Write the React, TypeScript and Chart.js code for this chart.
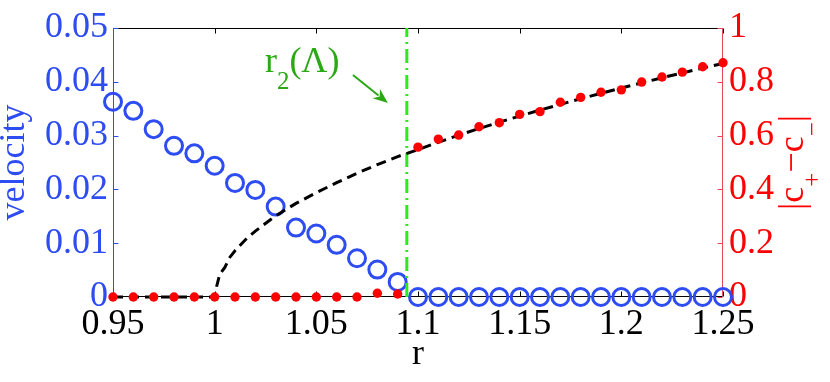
import React, { useEffect, useRef } from 'react';
import { Chart, registerables } from 'chart.js';

Chart.register(...registerables);

// ---- data ----
const rValues = [
  0.95, 0.96, 0.97, 0.98, 0.99, 1.0, 1.01, 1.02, 1.03, 1.04, 1.05, 1.06, 1.07, 1.08, 1.09,
  1.1, 1.11, 1.12, 1.13, 1.14, 1.15, 1.16, 1.17, 1.18, 1.19, 1.2, 1.21, 1.22, 1.23, 1.24, 1.25,
];
const velocity = [
  0.0363, 0.0346, 0.0312, 0.0281, 0.0267, 0.0244, 0.0212, 0.0199, 0.0168, 0.0129, 0.0118, 0.0097,
  0.0072, 0.0051, 0.0028, 0, 0, 0, 0, 0, 0, 0, 0, 0, 0, 0, 0, 0, 0, 0, 0,
];
const cDiff = [
  0, 0, 0, 0, 0, 0, 0, 0, 0, 0, 0, 0, 0, 0.014, 0.011,
  0.557, 0.587, 0.602, 0.633, 0.648, 0.679, 0.689, 0.724, 0.742, 0.761, 0.77, 0.799, 0.818,
  0.836, 0.856, 0.871,
];
const curveR = [
  0.95, 1.0, 1.001, 1.0025, 1.005, 1.0075, 1.01, 1.015, 1.02, 1.03, 1.04, 1.05, 1.06, 1.07,
  1.08, 1.09, 1.1, 1.12, 1.14, 1.16, 1.18, 1.2, 1.22, 1.24, 1.25,
];
const curveC = [
  0, 0, 0.04, 0.085, 0.11, 0.148, 0.172, 0.212, 0.245, 0.302, 0.348, 0.388, 0.425, 0.46,
  0.492, 0.522, 0.548, 0.602, 0.65, 0.695, 0.737, 0.777, 0.815, 0.851, 0.868,
];
const r2Value = 1.0945;
const r2Span = [0, 1];

const xTickValues = [0.95, 1.0, 1.05, 1.1, 1.15, 1.2, 1.25];
const xTickLabels = ['0.95', '1', '1.05', '1.1', '1.15', '1.2', '1.25'];
const leftTickValues = [0, 0.01, 0.02, 0.03, 0.04, 0.05];
const leftTickLabels = ['0', '0.01', '0.02', '0.03', '0.04', '0.05'];
const rightTickValues = [0, 0.2, 0.4, 0.6, 0.8, 1];
const rightTickLabels = ['0', '0.2', '0.4', '0.6', '0.8', '1'];

// annotation anchor (data units: x in r, y on right axis)
const annotText = { r: 1.0247, c: 0.836 };
const arrowFrom = { r: 1.068, c: 0.825 };
const arrowTo = { r: 1.0852, c: 0.721 };

// ---- styles ----
const FONT = '"Liberation Serif", "Times New Roman", serif';
const BLUE = '#2d4cf2';
const RED = '#ff0000';
const RED_AXIS = '#e8485f';
const GREEN_TEXT = '#2aa815';
const GREEN_LINE = '#2fe81f';
const MAIN_SIZE = 36;
const SUB_SIZE = 25;
const SUB_DY = 17;

type Part = { t: string; sub?: boolean };

function drawRich(ctx: CanvasRenderingContext2D, parts: Part[], x: number, y: number, align: 'left' | 'center') {
  let total = 0;
  for (const p of parts) {
    ctx.font = `${p.sub ? SUB_SIZE : MAIN_SIZE}px ${FONT}`;
    total += ctx.measureText(p.t).width;
  }
  let cx = align === 'center' ? x - total / 2 : x;
  ctx.textAlign = 'left';
  ctx.textBaseline = 'alphabetic';
  for (const p of parts) {
    ctx.font = `${p.sub ? SUB_SIZE : MAIN_SIZE}px ${FONT}`;
    ctx.fillText(p.t, cx, p.sub ? y + SUB_DY : y);
    cx += ctx.measureText(p.t).width;
  }
}

const framePlugin = {
  id: 'framePlugin',
  beforeDatasetsDraw(chart: any) {
    const { ctx, chartArea, scales } = chart;
    const { left, right, top, bottom } = chartArea;
    const L = Math.round(left) + 0.5;
    const R = Math.round(right) - 0.5;
    const T = Math.round(top) + 0.5;
    const B = Math.round(bottom) - 0.5;
    const TL = 5;
    ctx.save();
    ctx.lineWidth = 1;
    ctx.strokeStyle = '#000';
    ctx.beginPath();
    ctx.moveTo(L, T); ctx.lineTo(R, T);
    ctx.moveTo(L, B); ctx.lineTo(R, B);
    for (const v of xTickValues) {
      const px = Math.round(scales.x.getPixelForValue(v)) + 0.5;
      ctx.moveTo(px, B); ctx.lineTo(px, B - TL);
      ctx.moveTo(px, T); ctx.lineTo(px, T + TL);
    }
    ctx.stroke();
    ctx.strokeStyle = BLUE;
    ctx.beginPath();
    ctx.moveTo(L, T); ctx.lineTo(L, B);
    for (const v of leftTickValues) {
      const py = Math.round(scales.y.getPixelForValue(v)) + 0.5;
      ctx.moveTo(L, py); ctx.lineTo(L + TL, py);
    }
    ctx.stroke();
    ctx.strokeStyle = RED_AXIS;
    ctx.beginPath();
    ctx.moveTo(R, T); ctx.lineTo(R, B);
    for (const v of rightTickValues) {
      const py = Math.round(scales.y1.getPixelForValue(v)) + 0.5;
      ctx.moveTo(R, py); ctx.lineTo(R - TL, py);
    }
    ctx.stroke();
    ctx.restore();
  },
  afterDatasetsDraw(chart: any) {
    const { ctx, chartArea, scales } = chart;
    ctx.save();
    // right axis title |c+ - c-|
    ctx.fillStyle = RED;
    ctx.translate(chartArea.right + 80, (chartArea.top + chartArea.bottom) / 2);
    ctx.rotate(-Math.PI / 2);
    drawRich(ctx, [
      { t: '|' }, { t: 'c' }, { t: '+', sub: true }, { t: '\u2212' }, { t: 'c' }, { t: '\u2212', sub: true }, { t: '|' },
    ], 0, 0, 'center');
    ctx.restore();

    // annotation r2(Λ)
    ctx.save();
    ctx.fillStyle = GREEN_TEXT;
    const tx = scales.x.getPixelForValue(annotText.r);
    const ty = scales.y1.getPixelForValue(annotText.c);
    drawRich(ctx, [{ t: 'r' }, { t: '2', sub: true }, { t: '(\u039B)' }], tx, ty, 'left');
    // arrow
    const x0 = scales.x.getPixelForValue(arrowFrom.r);
    const y0 = scales.y1.getPixelForValue(arrowFrom.c);
    const x1 = scales.x.getPixelForValue(arrowTo.r);
    const y1 = scales.y1.getPixelForValue(arrowTo.c);
    const ang = Math.atan2(y1 - y0, x1 - x0);
    const headLen = 15;
    const headW = 6;
    ctx.strokeStyle = GREEN_TEXT;
    ctx.lineWidth = 2;
    ctx.beginPath();
    ctx.moveTo(x0, y0);
    ctx.lineTo(x1 - Math.cos(ang) * headLen * 0.8, y1 - Math.sin(ang) * headLen * 0.8);
    ctx.stroke();
    ctx.beginPath();
    ctx.moveTo(x1, y1);
    ctx.lineTo(x1 - Math.cos(ang) * headLen - Math.sin(ang) * headW, y1 - Math.sin(ang) * headLen + Math.cos(ang) * headW);
    ctx.lineTo(x1 - Math.cos(ang) * headLen * 0.7, y1 - Math.sin(ang) * headLen * 0.7);
    ctx.lineTo(x1 - Math.cos(ang) * headLen + Math.sin(ang) * headW, y1 - Math.sin(ang) * headLen - Math.cos(ang) * headW);
    ctx.closePath();
    ctx.fillStyle = GREEN_TEXT;
    ctx.fill();
    ctx.restore();
  },
};

export default function App() {
  const canvasRef = useRef<HTMLCanvasElement | null>(null);

  useEffect(() => {
    if (!canvasRef.current) return;
    const tickFont = { family: FONT, size: MAIN_SIZE };
    const chart = new Chart(canvasRef.current, {
      type: 'scatter',
      data: {
        datasets: [
          {
            label: '|c+ - c-| points',
            data: rValues.map((r, i) => ({ x: r, y: cDiff[i] })),
            yAxisID: 'y1',
            showLine: false,
            pointRadius: 4.7,
            pointBorderWidth: 0,
            pointBackgroundColor: RED,
            pointBorderColor: RED,
            clip: false,
          },
          {
            label: 'curve',
            data: curveR.map((r, i) => ({ x: r, y: curveC[i] })),
            yAxisID: 'y1',
            showLine: true,
            borderColor: '#000',
            borderWidth: 3,
            borderDash: [10, 6],
            pointRadius: 0,
            tension: 0,
            clip: false,
          },
          {
            label: 'r2',
            data: r2Span.map((c) => ({ x: r2Value, y: c })),
            yAxisID: 'y1',
            showLine: true,
            borderColor: GREEN_LINE,
            borderWidth: 3,
            borderDash: [14, 5, 2, 5],
            pointRadius: 0,
          },
          {
            label: 'velocity',
            data: rValues.map((r, i) => ({ x: r, y: velocity[i] })),
            yAxisID: 'y',
            showLine: false,
            pointRadius: 8.5,
            pointBorderWidth: 3,
            pointBorderColor: BLUE,
            pointBackgroundColor: 'rgba(0,0,0,0)',
            clip: false,
          },
        ],
      },
      options: {
        animation: false,
        responsive: false,
        devicePixelRatio: 1,
        layout: { padding: { top: 28, left: 0, right: 0, bottom: 0 } },
        plugins: { legend: { display: false }, tooltip: { enabled: false } },
        scales: {
          x: {
            type: 'linear',
            position: 'bottom',
            min: 0.95,
            max: 1.25,
            grid: { display: false, drawTicks: false },
            border: { display: false },
            afterBuildTicks: (s: any) => { s.ticks = xTickValues.map((v) => ({ value: v })); },
            afterFit: (s: any) => { s.height = 85; },
            ticks: {
              font: tickFont,
              color: '#000',
              padding: 6,
              maxRotation: 0,
              autoSkip: false,
              callback: (_v: any, i: number) => xTickLabels[i],
            },
            title: {
              display: true,
              text: 'r',
              color: '#000',
              font: { family: FONT, size: MAIN_SIZE, lineHeight: 1 },
              padding: { top: 0, bottom: 9 },
            },
          },
          y: {
            type: 'linear',
            position: 'left',
            min: 0,
            max: 0.05,
            grid: { display: false, drawTicks: false },
            border: { display: false },
            afterBuildTicks: (s: any) => { s.ticks = leftTickValues.map((v) => ({ value: v })); },
            afterFit: (s: any) => { s.width = 113; },
            ticks: {
              font: tickFont,
              color: BLUE,
              padding: 5,
              autoSkip: false,
              callback: (_v: any, i: number) => leftTickLabels[i],
            },
            title: {
              display: true,
              text: 'velocity',
              color: BLUE,
              font: { family: FONT, size: MAIN_SIZE, lineHeight: 1 },
              padding: { top: -3, bottom: 0 },
            },
          },
          y1: {
            type: 'linear',
            position: 'right',
            min: 0,
            max: 1,
            grid: { display: false, drawTicks: false },
            border: { display: false },
            afterBuildTicks: (s: any) => { s.ticks = rightTickValues.map((v) => ({ value: v })); },
            afterFit: (s: any) => { s.width = 107; },
            ticks: {
              font: tickFont,
              color: RED,
              padding: 6,
              autoSkip: false,
              callback: (_v: any, i: number) => rightTickLabels[i],
            },
          },
        },
      },
      plugins: [framePlugin],
    } as any);
    return () => chart.destroy();
  }, []);

  return (
    <div style={{ position: 'fixed', left: 0, top: 0, width: 830, height: 382, background: '#fff' }}>
      <canvas ref={canvasRef} width={830} height={382} style={{ display: 'block' }} />
    </div>
  );
}
